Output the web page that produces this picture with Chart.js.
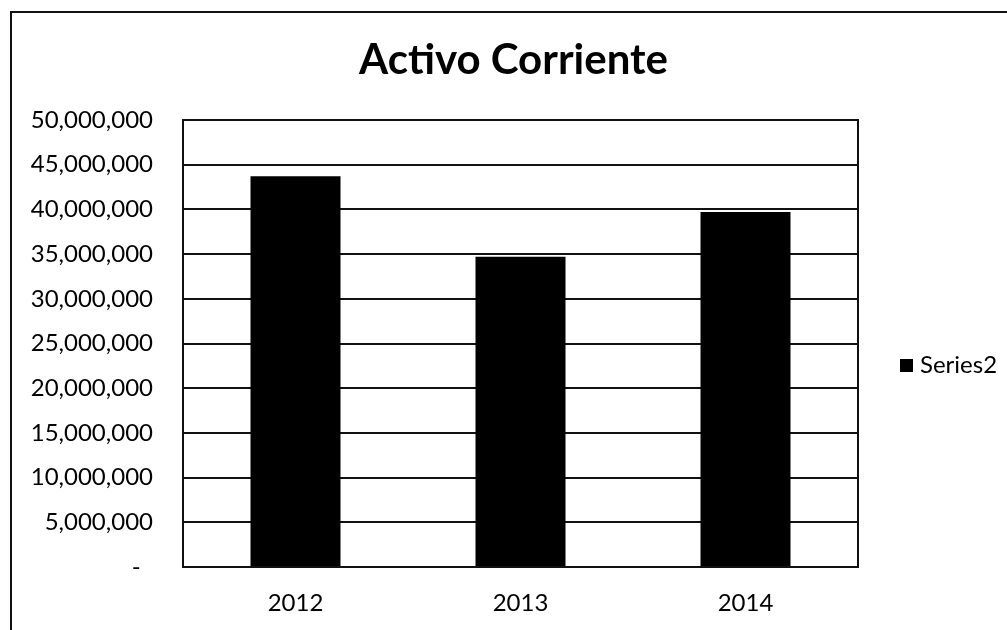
<!DOCTYPE html>
<html>
<head>
<meta charset="utf-8">
<script src="https://cdn.jsdelivr.net/npm/chart.js@4.4.1/dist/chart.umd.min.js"></script>
<style>
  html, body { margin: 0; padding: 0; background: #fff; }
  #wrap { width: 1007px; height: 630px; position: relative; }
</style>
</head>
<body>
<div id="wrap"><canvas id="c" width="1007" height="630"></canvas></div>
<script>
const categories = ['2012', '2013', '2014'];
const seriesName = 'Series2';
const values = [43700000, 34700000, 39700000];
const yMin = 0;
const yMax = 50000000;
const yStep = 5000000;
const titleText = 'Activo Corriente';

const FONT = 'Lato, "Open Sans", "Liberation Sans", sans-serif';

const frame = {
  id: 'frame',
  beforeDraw(chart) {
    const ctx = chart.ctx;
    ctx.save();
    ctx.strokeStyle = '#111';
    ctx.lineWidth = 2;
    ctx.beginPath();
    ctx.moveTo(11, 630);
    ctx.lineTo(11, 12);
    ctx.lineTo(1007, 12);
    ctx.stroke();
    ctx.restore();
  },
  afterDatasetsDraw(chart) {
    const a = chart.chartArea;
    const ctx = chart.ctx;
    ctx.save();
    ctx.strokeStyle = '#111';
    ctx.lineWidth = 2;
    ctx.strokeRect(a.left, a.top, a.right - a.left, a.bottom - a.top);
    ctx.restore();
  },
  afterDraw(chart) {
    // Legend to the right of the plot area, as in the reference
    const a = chart.chartArea;
    const ctx = chart.ctx;
    const ds = chart.data.datasets[0];
    const bx = a.right + 42;
    const cy = (a.top + a.bottom) / 2 + 22;
    ctx.save();
    ctx.fillStyle = ds.backgroundColor;
    ctx.fillRect(bx, cy - 6.5, 13, 13);
    ctx.fillStyle = '#000';
    ctx.font = '24px ' + FONT;
    ctx.textBaseline = 'middle';
    ctx.textAlign = 'left';
    ctx.fillText(ds.label, bx + 20, cy);
    ctx.restore();
  }
};

new Chart(document.getElementById('c'), {
  type: 'bar',
  data: {
    labels: categories,
    datasets: [{
      label: seriesName,
      data: values,
      backgroundColor: '#000',
      borderWidth: 0,
      barPercentage: 0.4,
      categoryPercentage: 1.0,
      yAxisID: 'y'
    }]
  },
  options: {
    responsive: false,
    animation: false,
    layout: { padding: { left: 20, right: 0, top: 0, bottom: 0 } },
    plugins: {
      title: {
        display: true,
        text: titleText,
        color: '#000',
        font: { family: FONT, size: 42, weight: 'bold' },
        padding: { top: 35, bottom: 34.6 }
      },
      legend: { display: false },
      tooltip: { enabled: false }
    },
    scales: {
      x: {
        afterFit(scale) { scale.height = 63; },
        grid: { display: false, drawTicks: false },
        border: { display: true, color: '#111', width: 2 },
        ticks: {
          color: '#000',
          font: { family: FONT, size: 24 },
          padding: 22,
          maxRotation: 0
        }
      },
      y: {
        min: yMin,
        max: yMax,
        afterFit(scale) { scale.width = 163; },
        grid: { color: '#111', lineWidth: 2, drawTicks: false },
        border: { display: true, color: '#111', width: 2 },
        ticks: {
          stepSize: yStep,
          color: '#000',
          font: { family: FONT, size: 24 },
          padding: 30,
          callback: (v) => v === 0 ? '-  ' : v.toLocaleString('en-US')
        }
      },
      legendSpace: {
        type: 'linear',
        position: 'right',
        display: true,
        min: yMin,
        max: yMax,
        afterFit(scale) { scale.width = 149; },
        grid: { display: false, drawTicks: false },
        border: { display: false },
        ticks: { display: false }
      }
    }
  },
  plugins: [frame]
});
</script>
</body>
</html>
